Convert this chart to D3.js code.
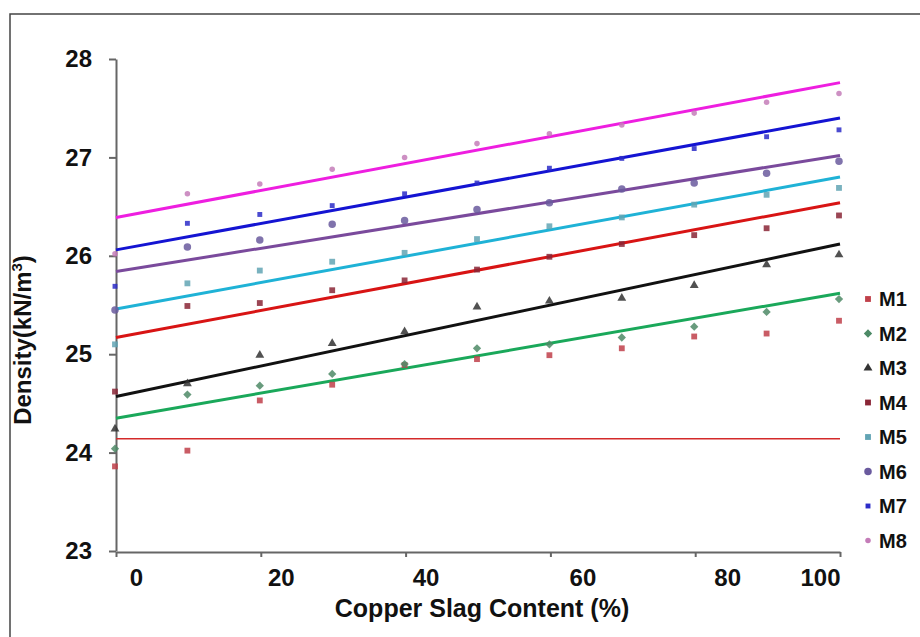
<html>
<head>
  <style>
    body{margin:0;background:#fff}
    .dens text{font-family:Arial,"Liberation Sans",sans-serif;font-weight:bold;fill:#111}
    .dens .axis line,.dens .axis path{stroke:#666;stroke-width:2px}
</style>
</head>
<body>
<div id="density"></div>
<script src="https://d3js.org/d3.v7.min.js"></script>
<script>
// copper slag content (%)
var slag = [0, 10, 20, 30, 40, 50, 60, 70, 80, 90, 100];
var xTicks = [0, 20, 40, 60, 80, 100];
var yTicks = [23, 24, 25, 26, 27, 28];
var names = ['M1', 'M2', 'M3', 'M4', 'M5', 'M6', 'M7', 'M8'];

// density (kN/m3) per mix
var m1 = [23.86, 24.02, 24.53, 24.69, 24.89, 24.95, 24.99, 25.06, 25.18, 25.21, 25.34];
var m2 = [24.04, 24.59, 24.68, 24.80, 24.90, 25.06, 25.10, 25.17, 25.28, 25.43, 25.56];
var m3 = [24.24, 24.70, 24.99, 25.11, 25.23, 25.48, 25.54, 25.57, 25.70, 25.91, 26.01];
var m4 = [24.62, 25.49, 25.52, 25.65, 25.75, 25.86, 25.99, 26.12, 26.21, 26.28, 26.41];
var m5 = [25.10, 25.72, 25.85, 25.94, 26.03, 26.17, 26.30, 26.39, 26.52, 26.62, 26.69];
var m6 = [25.45, 26.09, 26.16, 26.32, 26.36, 26.47, 26.54, 26.68, 26.74, 26.84, 26.96];
var m7 = [25.69, 26.33, 26.42, 26.51, 26.63, 26.74, 26.89, 26.99, 27.09, 27.21, 27.28];
var m8 = [26.02, 26.63, 26.73, 26.88, 27.00, 27.14, 27.24, 27.33, 27.45, 27.56, 27.65];

// trend lines: value at 0 % and at 100 %
var trendStart = [24.14, 24.35, 24.57, 25.17, 25.46, 25.84, 26.06, 26.39];
var trendEnd   = [24.14, 25.62, 26.12, 26.54, 26.80, 27.02, 27.40, 27.76];

(function () {
  var series = [m1, m2, m3, m4, m5, m6, m7, m8];
  var lineColor = ['#d42a2a', '#1aa85a', '#111111', '#d81414', '#1fb2d6', '#7a4a9c', '#1414d2', '#ee1ee0'];
  var dotColor  = ['#c0404a', '#4d8a66', '#333333', '#8a2636', '#62a4b4', '#6a5a9e', '#2c2cc8', '#c47cb8'];
  var lineWidth = [1.5, 3, 3, 3, 3, 3, 3, 3];
  var diamond = d3.symbolDiamond2 || d3.symbolDiamond;
  var shapes = [d3.symbolSquare, diamond, d3.symbolTriangle, d3.symbolSquare,
                d3.symbolSquare, d3.symbolCircle, d3.symbolSquare, d3.symbolCircle];
  var sizes = [34, 44, 34, 34, 34, 44, 24, 24];

  var width = 920, height = 637;
  var x = d3.scaleLinear().domain([0, 100]).range([116, 840]);
  var y = d3.scaleLinear().domain([23, 28]).range([551, 59]);

  var svg = d3.select('#density').append('svg')
    .attr('class', 'dens')
    .attr('width', width)
    .attr('height', height);

  // outer frame
  svg.append('rect')
    .attr('x', 10).attr('y', 14)
    .attr('width', 940).attr('height', 700)
    .attr('fill', 'none')
    .attr('stroke', '#444')
    .attr('stroke-width', 1.5);

  // y axis
  var ya = svg.append('g').attr('class', 'axis')
    .attr('transform', 'translate(' + x(0) + ',0)')
    .call(d3.axisLeft(y).tickValues(yTicks).tickFormat(d3.format('d'))
      .tickSize(7).tickSizeOuter(0).tickPadding(17));
  ya.selectAll('text').style('font-size', '24px');

  // x axis
  var xa = svg.append('g').attr('class', 'axis')
    .attr('transform', 'translate(0,' + (y(23) + 1) + ')')
    .call(d3.axisBottom(x).tickValues(xTicks).tickSize(5).tickSizeOuter(0).tickPadding(12));
  xa.selectAll('text')
    .style('font-size', '24px')
    .attr('text-anchor', function (d) { return d === 100 ? 'end' : 'middle'; })
    .attr('dx', function (d) { return d === 100 ? 0 : (d < 60 ? 20 : 32); });

  // trend lines
  svg.append('g').selectAll('line')
    .data(names)
    .join('line')
    .attr('x1', x(0))
    .attr('x2', x(100))
    .attr('y1', function (d, i) { return y(trendStart[i]); })
    .attr('y2', function (d, i) { return y(trendEnd[i]); })
    .attr('stroke', function (d, i) { return lineColor[i]; })
    .attr('stroke-width', function (d, i) { return lineWidth[i]; });

  // points
  series.forEach(function (vals, i) {
    svg.append('g').selectAll('path')
      .data(vals)
      .join('path')
      .attr('d', d3.symbol().type(shapes[i]).size(sizes[i]))
      .attr('transform', function (v, j) { return 'translate(' + (x(slag[j]) - 1) + ',' + y(v) + ')'; })
      .attr('fill', dotColor[i])
      .attr('opacity', 0.85);
  });

  // legend
  var leg = svg.append('g').selectAll('g')
    .data(names)
    .join('g')
    .attr('transform', function (d, i) { return 'translate(868,' + (299 + i * 34.5) + ')'; });
  leg.append('path')
    .attr('d', function (d, i) { return d3.symbol().type(shapes[i]).size(sizes[i])(); })
    .attr('fill', function (d, i) { return dotColor[i]; });
  leg.append('text')
    .attr('x', 11)
    .attr('y', 7)
    .style('font-size', '20px')
    .text(function (d) { return d; });

  // axis titles
  svg.append('text')
    .attr('x', 482)
    .attr('y', 617)
    .attr('text-anchor', 'middle')
    .style('font-size', '25px')
    .text('Copper Slag Content (%)');

  var yt = svg.append('text')
    .attr('transform', 'translate(31,340) rotate(-90)')
    .attr('text-anchor', 'middle')
    .style('font-size', '24px');
  yt.append('tspan').text('Density(kN/m');
  yt.append('tspan').attr('dy', -9).style('font-size', '15px').text('3');
  yt.append('tspan').attr('dy', 9).text(')');
})();
</script>
</body>
</html>
